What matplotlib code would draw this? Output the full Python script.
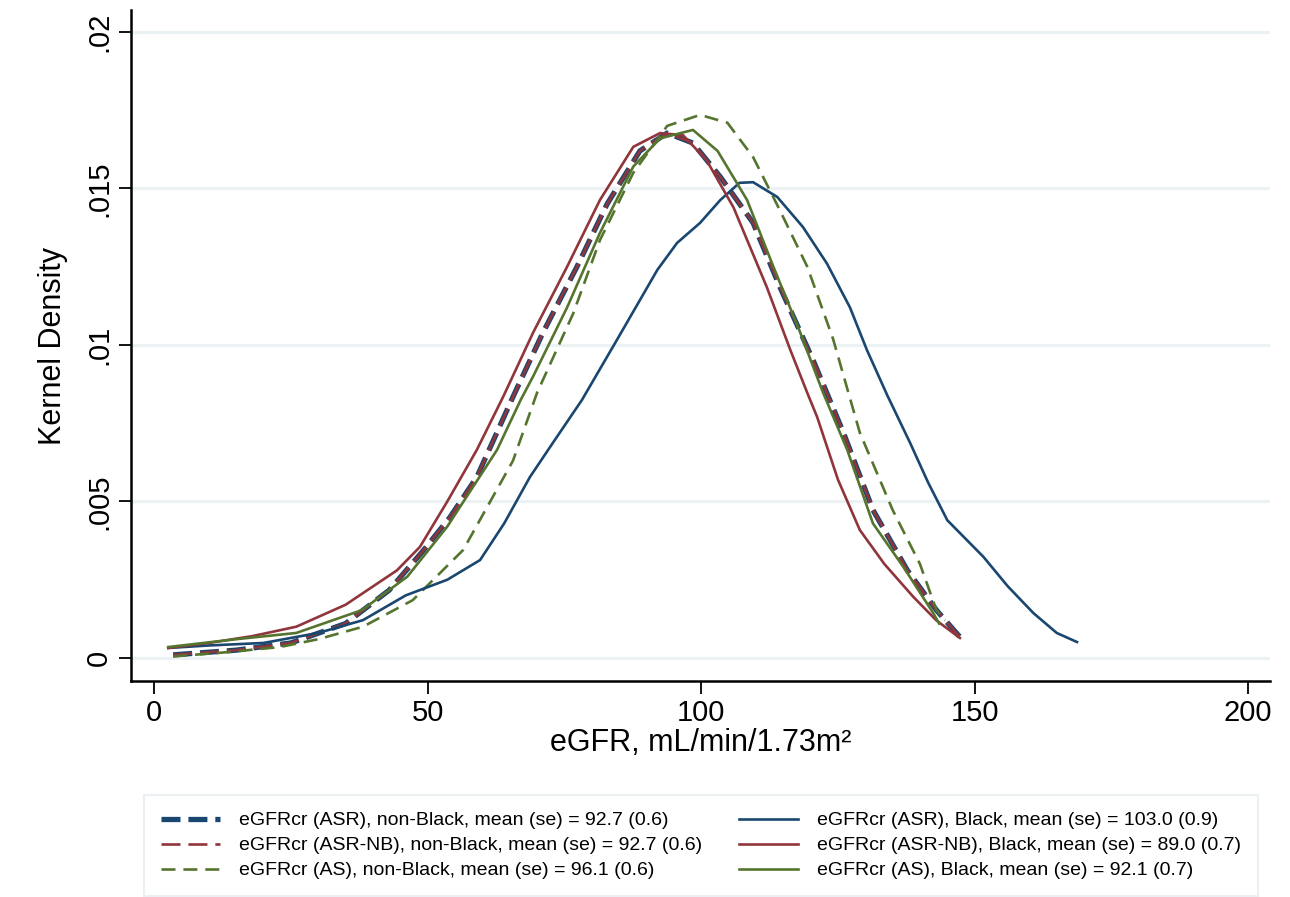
import numpy as np
import matplotlib.pyplot as plt

plt.rcParams['font.family'] = ['Liberation Sans', 'DejaVu Sans']

# curves (x = eGFR, y = density)
asr_nb_x = [3.5, 15, 25, 35, 43, 49.3, 54.1, 59, 65.6, 71.1, 77.3, 82.8, 88.8, 93.8,
            98.5, 103.5, 109.5, 114.4, 120.5, 126, 131.4, 137.7, 143, 147.3]
asr_nb_y = [0.0001, 0.00025, 0.00048, 0.0011, 0.00217, 0.00345, 0.0045, 0.00578, 0.00834,
            0.0104, 0.0125, 0.0145, 0.0162, 0.01677, 0.01645, 0.01537, 0.0139, 0.01185,
            0.0095, 0.0072, 0.00473, 0.0028, 0.00153, 0.00067]

asrnb_nb_x = asr_nb_x
asrnb_nb_y = asr_nb_y

as_nb_x = [3.5, 13, 23, 30, 38.2, 47.3, 56.5, 65.6, 70, 76.6, 81.5, 87.6, 93.8, 99.8,
           104.8, 109.5, 114.4, 119.4, 124.1, 129, 135, 140, 143, 144.6]
as_nb_y = [0.00005, 0.00018, 0.00035, 0.0006, 0.001, 0.00185, 0.00345, 0.0063, 0.00847,
           0.011, 0.01335, 0.0155, 0.017, 0.01735, 0.0171, 0.016, 0.0143, 0.0125, 0.0102,
           0.0072, 0.00473, 0.003, 0.00153, 0.0012]

asr_b_x = [2.6, 10, 20, 30, 38.2, 46, 53.6, 59.6, 64, 68.7, 73, 78.2, 84.6, 92, 95.6,
           99.8, 103.5, 107, 109.5, 113.9, 118.6, 123, 127.2, 130.3, 134, 138.2, 141.5,
           145, 151.6, 156, 160.7, 165, 168.7]
asr_b_y = [0.00032, 0.0004, 0.00048, 0.0008, 0.00121, 0.002, 0.0025, 0.00313, 0.0043,
           0.00578, 0.0069, 0.00824, 0.01016, 0.0124, 0.01326, 0.0139, 0.01463, 0.01518,
           0.0152, 0.01473, 0.01377, 0.0126, 0.0112, 0.00984, 0.0084, 0.00687, 0.0056,
           0.0044, 0.00323, 0.0023, 0.00144, 0.0008, 0.00051]

asrnb_b_x = [2.6, 10, 18, 26, 35, 44.4, 48.6, 53.6, 59, 63.8, 69.3, 75.5, 81.5, 87.6,
             92.5, 96.7, 101, 105.9, 112, 116.3, 119.4, 121.2, 125, 129, 133.5, 138.8,
             143, 147.3]
asrnb_b_y = [0.00032, 0.00048, 0.0007, 0.001, 0.0017, 0.0028, 0.00355, 0.005, 0.00665,
             0.00834, 0.0104, 0.0125, 0.01463, 0.01633, 0.01677, 0.0167, 0.0159, 0.0144,
             0.01185, 0.00984, 0.00847, 0.0077, 0.0057, 0.00409, 0.003, 0.00195, 0.0012,
             0.00064]

as_b_x = [2.6, 15, 26, 38, 46.3, 53.6, 62.7, 67, 69.3, 75.5, 81.5, 87.6, 92.5, 98.5,
          103, 108.4, 113.2, 118.1, 122.3, 126.7, 131.4, 137, 142.4, 143.5]
as_b_y = [0.00035, 0.0006, 0.0008, 0.00153, 0.0026, 0.0042, 0.00665, 0.00824, 0.009,
          0.0112, 0.01358, 0.0157, 0.0166, 0.01687, 0.0162, 0.01463, 0.0125, 0.0104,
          0.00847, 0.00665, 0.0043, 0.0029, 0.00144, 0.0011]

labels = [
    'eGFRcr (ASR), non-Black, mean (se) = 92.7 (0.6)',
    'eGFRcr (ASR-NB), non-Black, mean (se) = 92.7 (0.6)',
    'eGFRcr (AS), non-Black, mean (se) = 96.1 (0.6)',
    'eGFRcr (ASR), Black, mean (se) = 103.0 (0.9)',
    'eGFRcr (ASR-NB), Black, mean (se) = 89.0 (0.7)',
    'eGFRcr (AS), Black, mean (se) = 92.1 (0.7)',
]

navy = '#1A476F'
maroon = '#90353B'
green = '#55752F'

fig = plt.figure(figsize=(12.9, 8.97), dpi=100)
ax = fig.add_axes([0.1016, 0.2408, 0.883, 0.748])

h = []
h += ax.plot(asr_nb_x, asr_nb_y, color=navy, lw=3.8, dashes=(3.6, 1.5))
h += ax.plot(asrnb_nb_x, asrnb_nb_y, color=maroon, lw=1.9, dashes=(7.2, 3.0))
h += ax.plot(as_nb_x, as_nb_y, color=green, lw=1.9, dashes=(5.3, 3.0))
h += ax.plot(asr_b_x, asr_b_y, color=navy, lw=1.9)
h += ax.plot(asrnb_b_x, asrnb_b_y, color=maroon, lw=1.9)
h += ax.plot(as_b_x, as_b_y, color=green, lw=1.9)

ax.set_xlim(-4.2, 204)
ax.set_ylim(-0.000735, 0.0207)
ax.set_xticks([0, 50, 100, 150, 200])
ax.set_yticks([0, 0.005, 0.01, 0.015, 0.02])
ax.set_yticklabels(['0', '.005', '.01', '.015', '.02'], rotation=90, va='center')
ax.tick_params(labelsize=21, length=9, width=1.3, direction='out', pad=4)
ax.grid(axis='y', color='#EAF2F3', lw=2.2)
ax.set_axisbelow(True)
for s in ['top', 'right']:
    ax.spines[s].set_visible(False)
for s in ['left', 'bottom']:
    ax.spines[s].set_linewidth(1.8)

ax.set_xlabel('eGFR, mL/min/1.73m²', fontsize=22, labelpad=1)
ax.set_ylabel('Kernel Density', fontsize=22, labelpad=12)

leg = fig.legend(h, labels, ncol=2, loc='lower left',
                 bbox_to_anchor=(144 / 1290, 1 - 896 / 897, 1114 / 1290, 100 / 897),
                 mode='expand', fontsize=14, frameon=True, fancybox=False,
                 handlelength=3.05, handletextpad=1.0, labelspacing=0.38,
                 borderpad=0.85, borderaxespad=0)
leg.get_frame().set_edgecolor('#E6EEF0')
leg.get_frame().set_linewidth(1.5)

fig.savefig('out.png', dpi=100)
